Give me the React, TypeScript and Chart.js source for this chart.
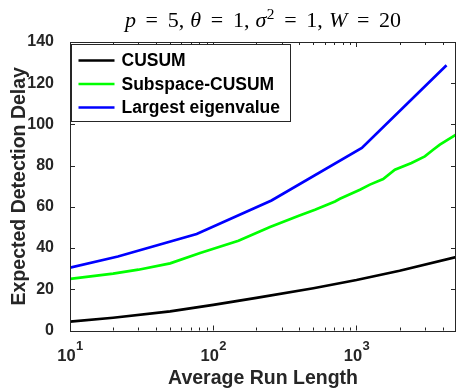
import React, { useEffect, useRef } from "react";
import { Chart, registerables } from "chart.js";

Chart.register(...registerables);

// ---------- data ----------
const seriesLabels = ["CUSUM", "Subspace-CUSUM", "Largest eigenvalue"];

const cusumARL = [10, 20, 50, 100, 200, 500, 1000, 2000, 4950];
const cusumEDD = [4.3, 6.2, 9.3, 12.4, 15.8, 20.5, 24.5, 29, 35.6];

const subspaceARL = [10, 20, 30, 50, 81, 150, 249, 400, 513, 708, 766, 1057, 1240, 1535, 1853, 2421, 3000, 3428, 3818, 4950];
const subspaceEDD = [25, 27.6, 29.5, 32.6, 37.6, 43.5, 50.2, 55.8, 58.6, 62.6, 63.9, 68.3, 70.8, 73.5, 78, 81.3, 84.5, 87.7, 90.2, 95];

const eigenARL = [10, 21.6, 76.6, 255, 1090, 4250];
const eigenEDD = [30.5, 35.9, 46.8, 63.1, 88.6, 128.7];

const yTicks = [0, 20, 40, 60, 80, 100, 120, 140];
const xMajorTicks = [10, 100, 1000];
const xTickExponents = ["1", "2", "3"];
const xMinorTicks = [20, 30, 40, 50, 60, 70, 80, 90, 200, 300, 400, 500, 600, 700, 800, 900, 2000, 3000, 4000];

// title tokens: text, italic, superscript, gap after (em)
const titleParts: { t: string; italic: boolean; sup?: boolean; gap: number }[] = [
  { t: "p", italic: true, gap: 0.44 },
  { t: "=", italic: false, gap: 0.44 },
  { t: "5", italic: false, gap: 0 },
  { t: ",", italic: false, gap: 0.28 },
  { t: "θ", italic: true, gap: 0.44 },
  { t: "=", italic: false, gap: 0.44 },
  { t: "1", italic: false, gap: 0 },
  { t: ",", italic: false, gap: 0.28 },
  { t: "σ", italic: true, gap: 0.02 },
  { t: "2", italic: false, sup: true, gap: 0.44 },
  { t: "=", italic: false, gap: 0.44 },
  { t: "1", italic: false, gap: 0 },
  { t: ",", italic: false, gap: 0.28 },
  { t: "W", italic: true, gap: 0.44 },
  { t: "=", italic: false, gap: 0.44 },
  { t: "20", italic: false, gap: 0 },
];

const xTitle = "Average Run Length";
const yTitle = "Expected Detection Delay";

// ---------- style ----------
const AXIS = "#262626";
const SANS = '"Liberation Sans", Arial, Helvetica, sans-serif';
const SERIF = '"Liberation Serif", "Times New Roman", serif';
const COLORS = ["#000000", "#00ff00", "#0000ff"];

const axesPlugin = {
  id: "matlabAxes",
  afterDatasetsDraw(chart: any) {
    const { ctx, chartArea: ca, scales } = chart;
    const xs = scales.x;
    const ys = scales.y;
    ctx.save();
    ctx.strokeStyle = AXIS;
    ctx.lineWidth = 1;
    ctx.beginPath();
    for (const v of yTicks) {
      const py = Math.round(ys.getPixelForValue(v)) + 0.5;
      ctx.moveTo(ca.left, py);
      ctx.lineTo(ca.left + 5, py);
      ctx.moveTo(ca.right, py);
      ctx.lineTo(ca.right - 5, py);
    }
    for (const v of xMajorTicks) {
      const px = Math.round(xs.getPixelForValue(v)) + 0.5;
      ctx.moveTo(px, ca.bottom);
      ctx.lineTo(px, ca.bottom - 5);
      ctx.moveTo(px, ca.top);
      ctx.lineTo(px, ca.top + 5);
    }
    for (const v of xMinorTicks) {
      const px = Math.round(xs.getPixelForValue(v)) + 0.5;
      ctx.moveTo(px, ca.bottom);
      ctx.lineTo(px, ca.bottom - 3);
      ctx.moveTo(px, ca.top);
      ctx.lineTo(px, ca.top + 3);
    }
    ctx.stroke();
    ctx.strokeRect(Math.round(ca.left) + 0.5, Math.round(ca.top) + 0.5, Math.round(ca.right - ca.left) - 1, Math.round(ca.bottom - ca.top));
    ctx.restore();
  },
  afterDraw(chart: any) {
    const { ctx, chartArea: ca, scales } = chart;
    const xs = scales.x;
    ctx.save();
    // x tick labels (10^n)
    ctx.fillStyle = AXIS;
    ctx.textBaseline = "alphabetic";
    xMajorTicks.forEach((v, i) => {
      const px = xs.getPixelForValue(v);
      ctx.font = `bold 16.5px ${SANS}`;
      const w1 = ctx.measureText("10").width;
      ctx.font = `bold 13px ${SANS}`;
      const w2 = ctx.measureText(xTickExponents[i]).width;
      const start = px - (w1 + w2) / 2;
      ctx.font = `bold 16.5px ${SANS}`;
      ctx.textAlign = "left";
      ctx.fillText("10", start, ca.bottom + 30);
      ctx.font = `bold 13px ${SANS}`;
      ctx.fillText(xTickExponents[i], start + w1 + 0.5, ca.bottom + 19.5);
    });

    // title (math style)
    const fs = 22;
    const fontOf = (p: { italic: boolean; sup?: boolean }) =>
      `${p.italic ? "italic " : ""}${p.sup ? fs * 0.7 : fs}px ${SERIF}`;
    const total = titleParts.reduce((s, p) => {
      ctx.font = fontOf(p);
      return s + ctx.measureText(p.t).width + p.gap * fs;
    }, 0);
    let tx = (ca.left + ca.right) / 2 - total / 2;
    ctx.fillStyle = "#000";
    ctx.textAlign = "left";
    for (const p of titleParts) {
      ctx.font = fontOf(p);
      const w = ctx.measureText(p.t).width;
      ctx.fillText(p.t, tx, p.sup ? 18.5 : 27);
      tx += w + p.gap * fs;
    }

    // legend
    const lx = Math.round(ca.left) + 1.5;
    const ly = Math.round(ca.top) + 2.5;
    const lw = 219;
    const lh = 77;
    ctx.fillStyle = "#fff";
    ctx.fillRect(lx, ly, lw, lh);
    ctx.strokeStyle = AXIS;
    ctx.lineWidth = 1;
    ctx.strokeRect(lx, ly, lw, lh);
    ctx.font = `bold 17.5px ${SANS}`;
    ctx.textBaseline = "middle";
    ctx.textAlign = "left";
    chart.data.datasets.forEach((ds: any, i: number) => {
      const ry = ly + 16 + i * 23.5;
      ctx.strokeStyle = ds.borderColor;
      ctx.lineWidth = 2.7;
      ctx.beginPath();
      ctx.moveTo(lx + 7, ry);
      ctx.lineTo(lx + 43, ry);
      ctx.stroke();
      ctx.fillStyle = "#000";
      ctx.fillText(ds.label, lx + 50, ry + 1);
    });
    ctx.restore();
  },
};

export default function App() {
  const canvasRef = useRef<HTMLCanvasElement | null>(null);

  useEffect(() => {
    const canvas = canvasRef.current;
    if (!canvas) return;
    const mk = (xs: number[], ys: number[]) => xs.map((x, i) => ({ x, y: ys[i] }));
    const chart = new Chart(canvas, {
      type: "line",
      data: {
        datasets: [
          { label: seriesLabels[0], data: mk(cusumARL, cusumEDD), borderColor: COLORS[0] },
          { label: seriesLabels[1], data: mk(subspaceARL, subspaceEDD), borderColor: COLORS[1] },
          { label: seriesLabels[2], data: mk(eigenARL, eigenEDD), borderColor: COLORS[2] },
        ].map((d) => ({ ...d, borderWidth: 2.7, pointRadius: 0, tension: 0, fill: false })),
      },
      options: {
        animation: false,
        responsive: false,
        devicePixelRatio: 1,
        layout: { padding: { top: 42, right: 1, left: 0, bottom: 0 } },
        plugins: { legend: { display: false }, title: { display: false }, tooltip: { enabled: false } },
        scales: {
          x: {
            type: "logarithmic",
            min: 10,
            max: 4950,
            ticks: { display: false },
            grid: { display: false },
            border: { display: false },
            title: {
              display: true,
              text: xTitle,
              color: AXIS,
              font: { family: SANS, weight: "bold", size: 19.5, lineHeight: 0.95 },
              padding: { top: 0, bottom: 0 },
            },
            afterFit: (s: any) => {
              s.height = 57.5;
            },
          },
          y: {
            type: "linear",
            min: 0,
            max: 140,
            ticks: { stepSize: 20, color: AXIS, padding: 8, font: { family: SANS, weight: "bold", size: 16 } },
            grid: { display: false },
            border: { display: false },
            title: {
              display: true,
              text: yTitle,
              color: AXIS,
              font: { family: SANS, weight: "bold", size: 19.5, lineHeight: 1.2 },
              padding: { top: 7.6, bottom: 0 },
            },
            afterFit: (s: any) => {
              s.width = 70;
            },
          },
        },
      } as any,
      plugins: [axesPlugin],
    });
    return () => chart.destroy();
  }, []);

  return (
    <div style={{ position: "fixed", left: 0, top: 0, width: 457, height: 388, background: "#fff" }}>
      <canvas ref={canvasRef} width={457} height={388} style={{ display: "block", width: 457, height: 388 }} />
    </div>
  );
}
